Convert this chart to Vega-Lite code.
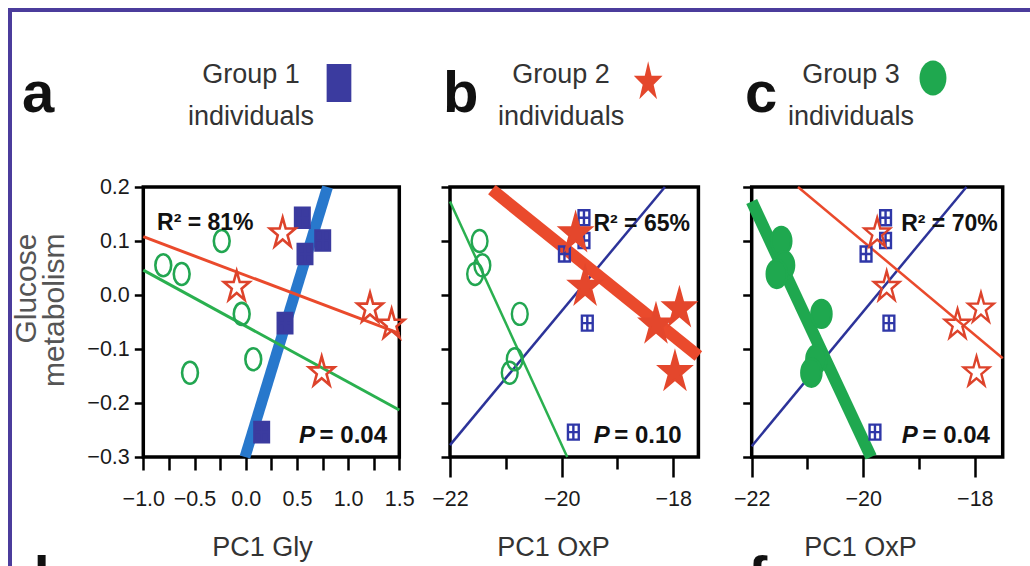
{
  "$schema": "https://vega.github.io/schema/vega-lite/v6.json",
  "width": 1025,
  "height": 561,
  "autosize": {"type": "none"},
  "padding": {"left": 10, "top": 10, "right": -5, "bottom": -5},
  "background": "white",
  "config": {
    "view": {"stroke": "#4b3c9c", "strokeWidth": 4},
    "font": "Liberation Sans, Arial, sans-serif",
    "axis": {
      "grid": false, "domain": false, "tickColor": "black", "tickWidth": 2.5,
      "labelFont": "Liberation Sans, Arial, sans-serif",
      "titleFont": "Liberation Sans, Arial, sans-serif",
      "labelColor": "#1a1a1a", "labelFontSize": 21.5, "labelOverlap": false, "labelFlush": false, "labelBound": false,
      "titleFontWeight": "normal"
    }
  },
  "datasets": {
    "people": [
      {"group": "Group 1", "gly": 0.553, "oxp": -19.60, "glucose": 0.143},
      {"group": "Group 1", "gly": 0.752, "oxp": -19.60, "glucose": 0.101},
      {"group": "Group 1", "gly": 0.579, "oxp": -19.95, "glucose": 0.076},
      {"group": "Group 1", "gly": 0.384, "oxp": -19.54, "glucose": -0.052},
      {"group": "Group 1", "gly": 0.156, "oxp": -19.79, "glucose": -0.254},
      {"group": "Group 2", "gly": 0.361, "oxp": -19.75, "glucose": 0.114},
      {"group": "Group 2", "gly": -0.088, "oxp": -19.58, "glucose": 0.015},
      {"group": "Group 2", "gly": 1.214, "oxp": -17.89, "glucose": -0.025},
      {"group": "Group 2", "gly": 1.425, "oxp": -18.31, "glucose": -0.055},
      {"group": "Group 2", "gly": 0.742, "oxp": -17.97, "glucose": -0.143},
      {"group": "Group 3", "gly": -0.234, "oxp": -21.47, "glucose": 0.100},
      {"group": "Group 3", "gly": -0.805, "oxp": -21.42, "glucose": 0.055},
      {"group": "Group 3", "gly": -0.625, "oxp": -21.55, "glucose": 0.039},
      {"group": "Group 3", "gly": -0.039, "oxp": -20.75, "glucose": -0.035},
      {"group": "Group 3", "gly": 0.074, "oxp": -20.84, "glucose": -0.119},
      {"group": "Group 3", "gly": -0.544, "oxp": -20.93, "glucose": -0.144}
    ],
    "fits": [
      {"panel": "a", "group": "Group 1", "x": -0.007, "y": -0.3},
      {"panel": "a", "group": "Group 1", "x": 0.799, "y": 0.2},
      {"panel": "a", "group": "Group 2", "x": -1.0, "y": 0.108},
      {"panel": "a", "group": "Group 2", "x": 1.5, "y": -0.071},
      {"panel": "a", "group": "Group 3", "x": -1.0, "y": 0.046},
      {"panel": "a", "group": "Group 3", "x": 1.5, "y": -0.213},
      {"panel": "b", "group": "Group 1", "x": -22, "y": -0.278},
      {"panel": "b", "group": "Group 1", "x": -18.15, "y": 0.2},
      {"panel": "b", "group": "Group 2", "x": -21.25, "y": 0.195},
      {"panel": "b", "group": "Group 2", "x": -17.55, "y": -0.113},
      {"panel": "b", "group": "Group 3", "x": -22, "y": 0.173},
      {"panel": "b", "group": "Group 3", "x": -19.9, "y": -0.3},
      {"panel": "c", "group": "Group 1", "x": -22, "y": -0.28},
      {"panel": "c", "group": "Group 1", "x": -18.15, "y": 0.2},
      {"panel": "c", "group": "Group 2", "x": -21.17, "y": 0.2},
      {"panel": "c", "group": "Group 2", "x": -17.5, "y": -0.117},
      {"panel": "c", "group": "Group 3", "x": -22, "y": 0.173},
      {"panel": "c", "group": "Group 3", "x": -19.86, "y": -0.3}
    ]
  },
  "layer": [
    {
      "layer": [
        {
          "data": {"values": [{}]},
          "mark": {"type": "rect", "fillOpacity": 0, "stroke": "black", "strokeWidth": 3.5},
          "encoding": {
            "x": {"datum": -1, "type": "quantitative"},
            "x2": {"datum": 1.5},
            "y": {"datum": -0.3, "type": "quantitative"},
            "y2": {"datum": 0.2}
          }
        },
        {
          "data": {"name": "fits"},
          "transform": [{"filter": "datum.panel == 'a'"}],
          "mark": {"type": "line", "strokeCap": "butt"},
          "encoding": {
            "x": {"field": "x", "type": "quantitative"},
            "y": {"field": "y", "type": "quantitative"},
            "detail": {"field": "group"},
            "stroke": {"condition": [{"test": "datum.group == 'Group 1'", "value": "#2878cc"}, {"test": "datum.group == 'Group 2'", "value": "#ea4a2c"}], "value": "#2ab04f"},
            "strokeWidth": {"condition": {"test": "datum.group == 'Group 1'", "value": 11}, "value": 3}
          }
        },
        {
          "data": {"name": "people"},
          "mark": {"type": "point", "filled": true, "opacity": 1, "strokeWidth": 2.6},
          "encoding": {
            "x": {"field": "gly", "type": "quantitative",
              "scale": {"domain": [-1, 1.5], "range": [133.3, 389.3], "nice": false, "zero": false},
              "axis": {"orient": "bottom", "offset": -114, "values": [-1, -0.75, -0.5, -0.25, 0, 0.25, 0.5, 0.75, 1, 1.25, 1.5],
                "format": ".1f", "labelExpr": "abs(datum.value*2 - round(datum.value*2)) < 0.01 ? datum.label : ''",
                "tickSize": 13, "labelPadding": 18, "title": "PC1 Gly", "titleX": 252, "titleY": 98, "titleBaseline": "alphabetic",
                "titleFontSize": 27, "titleColor": "#333"}},
            "y": {"field": "glucose", "type": "quantitative",
              "scale": {"domain": [-0.3, 0.2], "range": [447, 177], "nice": false, "zero": false},
              "axis": {"orient": "left", "offset": -133.3, "values": [-0.3, -0.2, -0.1, 0, 0.1, 0.2], "format": ".1f",
                "tickSize": 9, "labelPadding": 5, "title": ["Glucose", "metabolism"], "titleAngle": 270, "titleAlign": "right",
                "titleBaseline": "alphabetic", "titleX": -107.5, "titleY": 223, "titleFontSize": 30, "titleLineHeight": 28, "titleColor": "#555"}},
            "shape": {"field": "group", "type": "nominal", "legend": null,
              "scale": {"domain": ["Group 1", "Group 2", "Group 3"], "range": [
                "M-0.72,-1H0.72V1H-0.72Z M0,-1V1 M-0.72,0H0.72",
                "M0,-1L0.191,-0.309L0.808,-0.309L0.309,0.118L0.5,0.809L0,0.382L-0.5,0.809L-0.309,0.118L-0.808,-0.309L-0.191,-0.309Z",
                "M0,-1A0.72,1,0,1,1,0,1A0.72,1,0,1,1,0,-1Z"]}},
            "size": {"condition": [{"test": "datum.group == 'Group 1'", "value": 400}, {"test": "datum.group == 'Group 2'", "value": 1000}], "value": 484},
            "fill": {"condition": {"test": "datum.group == 'Group 1'", "value": "#3b3b9f"}, "value": "transparent"},
            "stroke": {"condition": [{"test": "datum.group == 'Group 1'", "value": "#3b3b9f"}, {"test": "datum.group == 'Group 2'", "value": "#dd432b"}], "value": "#22a651"}
          }
        },
        {
          "data": {"values": [{}]},
          "mark": {"type": "text", "text": "R² = 81%", "align": "left", "baseline": "middle", "fontSize": 23, "fontWeight": "bold", "color": "#111"},
          "encoding": {"x": {"datum": -0.866, "type": "quantitative"}, "y": {"datum": 0.1333, "type": "quantitative"}}
        },
        {
          "data": {"values": [{}]},
          "mark": {"type": "text", "text": "= 0.04", "align": "right", "baseline": "middle", "fontSize": 24, "fontWeight": "bold", "color": "#111"},
          "encoding": {"x": {"datum": 1.38, "type": "quantitative"}, "y": {"datum": -0.261, "type": "quantitative"}}
        },
        {
          "data": {"values": [{}]},
          "mark": {"type": "text", "text": "P", "align": "right", "baseline": "middle", "dx": -72, "fontSize": 24, "fontWeight": "bold", "fontStyle": "italic", "color": "#111"},
          "encoding": {"x": {"datum": 1.38, "type": "quantitative"}, "y": {"datum": -0.261, "type": "quantitative"}}
        },
        {
          "data": {"values": [{}]},
          "mark": {"type": "text", "text": "a", "align": "left", "baseline": "alphabetic", "fontSize": 58, "fontWeight": "bold", "color": "#111"},
          "encoding": {"x": {"datum": -2.185, "type": "quantitative"}, "y": {"datum": 0.339, "type": "quantitative"}}
        },
        {
          "data": {"values": [{}]},
          "mark": {"type": "text", "text": "d", "align": "left", "baseline": "alphabetic", "fontSize": 58, "fontWeight": "bold", "color": "#111"},
          "encoding": {"x": {"datum": -2.26, "type": "quantitative"}, "y": {"datum": -0.559, "type": "quantitative"}}
        },
        {
          "data": {"values": [{}]},
          "mark": {"type": "text", "text": ["Group 1", "individuals"], "align": "center", "baseline": "alphabetic", "fontSize": 27, "lineHeight": 42, "color": "#333"},
          "encoding": {"x": {"datum": 0.052, "type": "quantitative"}, "y": {"datum": 0.3926, "type": "quantitative"}}
        },
        {
          "data": {"values": [{}]},
          "mark": {"type": "point", "shape": "M-0.65,-1H0.65V1H-0.65Z", "size": 1444, "filled": true, "opacity": 1, "color": "#3b3b9f"},
          "encoding": {"x": {"datum": 0.911, "type": "quantitative"}, "y": {"datum": 0.3926, "type": "quantitative"}}
        }
      ]
    },
    {
      "layer": [
        {
          "data": {"values": [{}]},
          "mark": {"type": "rect", "fillOpacity": 0, "stroke": "black", "strokeWidth": 3.5},
          "encoding": {
            "x": {"datum": -22, "type": "quantitative"},
            "x2": {"datum": -17.55},
            "y": {"datum": -0.3, "type": "quantitative"},
            "y2": {"datum": 0.2}
          }
        },
        {
          "data": {"name": "fits"},
          "transform": [{"filter": "datum.panel == 'b'"}],
          "mark": {"type": "line", "strokeCap": "butt"},
          "encoding": {
            "x": {"field": "x", "type": "quantitative"},
            "y": {"field": "y", "type": "quantitative"},
            "detail": {"field": "group"},
            "stroke": {"condition": [{"test": "datum.group == 'Group 1'", "value": "#2c3399"}, {"test": "datum.group == 'Group 2'", "value": "#ea4a2c"}], "value": "#2ab04f"},
            "strokeWidth": {"condition": {"test": "datum.group == 'Group 2'", "value": 12}, "value": 2.5}
          }
        },
        {
          "data": {"name": "people"},
          "mark": {"type": "point", "filled": true, "opacity": 1, "strokeWidth": 2.4},
          "encoding": {
            "x": {"field": "oxp", "type": "quantitative",
              "scale": {"domain": [-22, -17.55], "range": [440, 688.4], "nice": false, "zero": false},
              "axis": {"orient": "bottom", "offset": -114, "values": [-22, -21, -20, -19, -18], "format": "d",
                "labelExpr": "datum.value % 2 == 0 ? datum.label : ''",
                "tickSize": {"condition": {"test": "datum.value % 2 == 0", "value": 20}, "value": 12},
                "labelPadding": 11, "title": "PC1 OxP", "titleX": 543, "titleY": 98, "titleBaseline": "alphabetic",
                "titleFontSize": 27, "titleColor": "#333"}},
            "y": {"field": "glucose", "type": "quantitative",
              "scale": {"domain": [-0.3, 0.2], "range": [447, 177], "nice": false, "zero": false},
              "axis": {"orient": "left", "offset": -440, "values": [-0.3, -0.2, -0.1, 0, 0.1, 0.2], "labels": false, "tickSize": 9, "title": null}},
            "shape": {"field": "group", "type": "nominal", "legend": null,
              "scale": {"domain": ["Group 1", "Group 2", "Group 3"], "range": [
                "M-0.72,-1H0.72V1H-0.72Z M0,-1V1 M-0.72,0H0.72",
                "M0,-1L0.191,-0.309L0.808,-0.309L0.309,0.118L0.5,0.809L0,0.382L-0.5,0.809L-0.309,0.118L-0.808,-0.309L-0.191,-0.309Z",
                "M0,-1A0.72,1,0,1,1,0,1A0.72,1,0,1,1,0,-1Z"]}},
            "size": {"condition": [{"test": "datum.group == 'Group 1'", "value": 225}, {"test": "datum.group == 'Group 2'", "value": 1500}], "value": 484},
            "fill": {"condition": {"test": "datum.group == 'Group 2'", "value": "#e4472c"}, "value": "transparent"},
            "stroke": {"condition": [{"test": "datum.group == 'Group 1'", "value": "#2f37a8"}, {"test": "datum.group == 'Group 2'", "value": "#e4472c"}], "value": "#22a651"}
          }
        },
        {
          "data": {"values": [{}]},
          "mark": {"type": "text", "text": "R² = 65%", "align": "left", "baseline": "middle", "fontSize": 23, "fontWeight": "bold", "color": "#111"},
          "encoding": {"x": {"datum": -19.43, "type": "quantitative"}, "y": {"datum": 0.1315, "type": "quantitative"}}
        },
        {
          "data": {"values": [{}]},
          "mark": {"type": "text", "text": "= 0.10", "align": "right", "baseline": "middle", "fontSize": 24, "fontWeight": "bold", "color": "#111"},
          "encoding": {"x": {"datum": -17.85, "type": "quantitative"}, "y": {"datum": -0.261, "type": "quantitative"}}
        },
        {
          "data": {"values": [{}]},
          "mark": {"type": "text", "text": "P", "align": "right", "baseline": "middle", "dx": -72, "fontSize": 24, "fontWeight": "bold", "fontStyle": "italic", "color": "#111"},
          "encoding": {"x": {"datum": -17.85, "type": "quantitative"}, "y": {"datum": -0.261, "type": "quantitative"}}
        },
        {
          "data": {"values": [{}]},
          "mark": {"type": "text", "text": "b", "align": "left", "baseline": "alphabetic", "fontSize": 58, "fontWeight": "bold", "color": "#111"},
          "encoding": {"x": {"datum": -22.125, "type": "quantitative"}, "y": {"datum": 0.339, "type": "quantitative"}}
        },
        {
          "data": {"values": [{}]},
          "mark": {"type": "text", "text": ["Group 2", "individuals"], "align": "center", "baseline": "alphabetic", "fontSize": 27, "lineHeight": 42, "color": "#333"},
          "encoding": {"x": {"datum": -20.01, "type": "quantitative"}, "y": {"datum": 0.3926, "type": "quantitative"}}
        },
        {
          "data": {"values": [{}]},
          "mark": {"type": "point", "shape": "M0,-1L0.162,-0.309L0.685,-0.309L0.261,0.118L0.423,0.809L0,0.382L-0.423,0.809L-0.261,0.118L-0.685,-0.309L-0.162,-0.309Z", "size": 1764, "filled": true, "opacity": 1, "color": "#e4472c"},
          "encoding": {"x": {"datum": -18.45, "type": "quantitative"}, "y": {"datum": 0.394, "type": "quantitative"}}
        }
      ]
    },
    {
      "layer": [
        {
          "data": {"values": [{}]},
          "mark": {"type": "rect", "fillOpacity": 0, "stroke": "black", "strokeWidth": 3.5},
          "encoding": {
            "x": {"datum": -22, "type": "quantitative"},
            "x2": {"datum": -17.5},
            "y": {"datum": -0.3, "type": "quantitative"},
            "y2": {"datum": 0.2}
          }
        },
        {
          "data": {"name": "fits"},
          "transform": [{"filter": "datum.panel == 'c'"}],
          "mark": {"type": "line", "strokeCap": "butt"},
          "encoding": {
            "x": {"field": "x", "type": "quantitative"},
            "y": {"field": "y", "type": "quantitative"},
            "detail": {"field": "group"},
            "stroke": {"condition": [{"test": "datum.group == 'Group 1'", "value": "#2c3399"}, {"test": "datum.group == 'Group 2'", "value": "#ea4a2c"}], "value": "#1fa84f"},
            "strokeWidth": {"condition": {"test": "datum.group == 'Group 3'", "value": 12}, "value": 2.5}
          }
        },
        {
          "data": {"name": "people"},
          "mark": {"type": "point", "filled": true, "opacity": 1, "strokeWidth": 2.4},
          "encoding": {
            "x": {"field": "oxp", "type": "quantitative",
              "scale": {"domain": [-22, -17.5], "range": [741.7, 992.7], "nice": false, "zero": false},
              "axis": {"orient": "bottom", "offset": -114, "values": [-22, -21, -20, -19, -18], "format": "d",
                "labelExpr": "datum.value % 2 == 0 ? datum.label : ''",
                "tickSize": {"condition": {"test": "datum.value % 2 == 0", "value": 20}, "value": 12},
                "labelPadding": 11, "title": "PC1 OxP", "titleX": 850, "titleY": 98, "titleBaseline": "alphabetic",
                "titleFontSize": 27, "titleColor": "#333"}},
            "y": {"field": "glucose", "type": "quantitative",
              "scale": {"domain": [-0.3, 0.2], "range": [447, 177], "nice": false, "zero": false},
              "axis": {"orient": "left", "offset": -741.7, "values": [-0.3, -0.2, -0.1, 0, 0.1, 0.2], "labels": false, "tickSize": 9, "title": null}},
            "shape": {"field": "group", "type": "nominal", "legend": null,
              "scale": {"domain": ["Group 1", "Group 2", "Group 3"], "range": [
                "M-0.72,-1H0.72V1H-0.72Z M0,-1V1 M-0.72,0H0.72",
                "M0,-1L0.191,-0.309L0.808,-0.309L0.309,0.118L0.5,0.809L0,0.382L-0.5,0.809L-0.309,0.118L-0.808,-0.309L-0.191,-0.309Z",
                "M0,-1A0.72,1,0,1,1,0,1A0.72,1,0,1,1,0,-1Z"]}},
            "size": {"condition": [{"test": "datum.group == 'Group 1'", "value": 225}, {"test": "datum.group == 'Group 2'", "value": 1000}], "value": 784},
            "fill": {"condition": {"test": "datum.group == 'Group 3'", "value": "#1fa84f"}, "value": "transparent"},
            "stroke": {"condition": [{"test": "datum.group == 'Group 1'", "value": "#2f37a8"}, {"test": "datum.group == 'Group 2'", "value": "#dd432b"}], "value": "#1fa84f"}
          }
        },
        {
          "data": {"values": [{}]},
          "mark": {"type": "text", "text": "R² = 70%", "align": "left", "baseline": "middle", "fontSize": 23, "fontWeight": "bold", "color": "#111"},
          "encoding": {"x": {"datum": -19.32, "type": "quantitative"}, "y": {"datum": 0.1315, "type": "quantitative"}}
        },
        {
          "data": {"values": [{}]},
          "mark": {"type": "text", "text": "= 0.04", "align": "right", "baseline": "middle", "fontSize": 24, "fontWeight": "bold", "color": "#111"},
          "encoding": {"x": {"datum": -17.73, "type": "quantitative"}, "y": {"datum": -0.261, "type": "quantitative"}}
        },
        {
          "data": {"values": [{}]},
          "mark": {"type": "text", "text": "P", "align": "right", "baseline": "middle", "dx": -72, "fontSize": 24, "fontWeight": "bold", "fontStyle": "italic", "color": "#111"},
          "encoding": {"x": {"datum": -17.73, "type": "quantitative"}, "y": {"datum": -0.261, "type": "quantitative"}}
        },
        {
          "data": {"values": [{}]},
          "mark": {"type": "text", "text": "c", "align": "left", "baseline": "alphabetic", "fontSize": 58, "fontWeight": "bold", "color": "#111"},
          "encoding": {"x": {"datum": -22.12, "type": "quantitative"}, "y": {"datum": 0.339, "type": "quantitative"}}
        },
        {
          "data": {"values": [{}]},
          "mark": {"type": "text", "text": "f", "align": "left", "baseline": "alphabetic", "fontSize": 58, "fontWeight": "bold", "color": "#111"},
          "encoding": {"x": {"datum": -22.066, "type": "quantitative"}, "y": {"datum": -0.559, "type": "quantitative"}}
        },
        {
          "data": {"values": [{}]},
          "mark": {"type": "text", "text": ["Group 3", "individuals"], "align": "center", "baseline": "alphabetic", "fontSize": 27, "lineHeight": 42, "color": "#333"},
          "encoding": {"x": {"datum": -20.22, "type": "quantitative"}, "y": {"datum": 0.3926, "type": "quantitative"}}
        },
        {
          "data": {"values": [{}]},
          "mark": {"type": "point", "shape": "M0,-1A0.77,1,0,1,1,0,1A0.77,1,0,1,1,0,-1Z", "size": 1225, "filled": true, "opacity": 1, "color": "#1fa84f"},
          "encoding": {"x": {"datum": -18.75, "type": "quantitative"}, "y": {"datum": 0.402, "type": "quantitative"}}
        }
      ]
    }
  ],
  "resolve": {"scale": {"x": "independent", "y": "independent"}, "axis": {"x": "independent", "y": "independent"}}
}
